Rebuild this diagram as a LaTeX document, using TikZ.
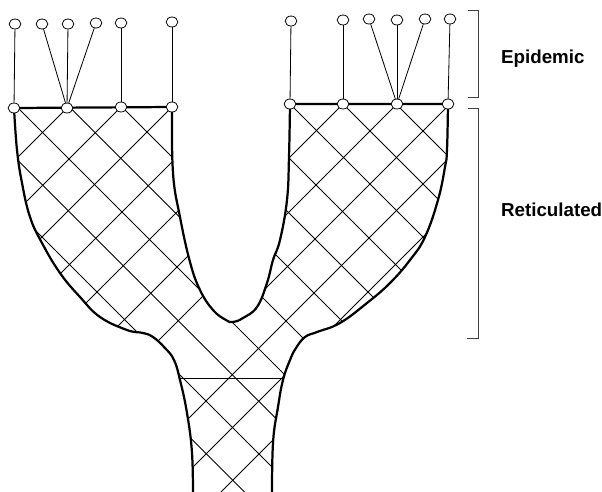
\documentclass[tikz,border=0pt]{standalone}
\usepackage{fontspec}
\setmainfont{Liberation Sans}
\usetikzlibrary{shapes.geometric}

\begin{document}
\begin{tikzpicture}[x=0.03cm, y=-0.03cm,
  tip/.style={draw, ellipse, fill=white, line width=0.7pt, minimum width=0.35cm, minimum height=0.3cm, inner sep=0pt},
  mesh/.style={line width=0.65pt},
  rim/.style={line width=1.9pt, line join=round},
  twig/.style={line width=0.7pt},
  bracket/.style={line width=0.6pt, black!75},
  phase/.style={font=\fontsize{16}{19}\selectfont\bfseries, anchor=west}]
\useasboundingbox (0,0) rectangle (602,491);
% base points of the two branches
\coordinate (p1) at (14,108); \coordinate (p2) at (67,108); \coordinate (p3) at (121,107); \coordinate (p4) at (172,107);
\coordinate (q1) at (290,104); \coordinate (q2) at (343,104); \coordinate (q3) at (397,104); \coordinate (q4) at (448,104);
% the Y shaped trunk
\path[save path=\trunk] (p1) -- (p4)
  -- plot[smooth, tension=0.7] coordinates {(172,107) (173,173) (180,217) (190,262) (200,290) (213,310) (226,320) (233,322) (243,318) (257,307) (267,283) (273,260) (280,240) (287,200) (289,157) (290,104)}
  -- (q4)
  -- plot[smooth, tension=0.7] coordinates {(448,104) (447,150) (445,167) (438,200) (425,237) (410,260) (390,283) (367,303) (340,323) (317,332) (305,337) (296,348) (290,360) (283,380) (278,407) (273,443) (272,500)}
  -- (193,500)
  -- plot[smooth, tension=0.7] coordinates {(193,500) (192,453) (187,413) (180,380) (174,360) (165,348) (153,337) (143,333) (127,330) (100,317) (80,297) (60,273) (42,243) (30,217) (22,183) (17,150) (14,108)}
  -- cycle;
% reticulate mesh: left branch phase, right branch phase, meeting in the stem
\begin{scope}
\clip[use path=\trunk];
\begin{scope}
\clip (-60,-10) -- (233,-10) -- (233,322) -- (-50,605) -- (-60,605) -- cycle;
\foreach \c in {122,175,228,279,334,389,444,499} \draw[mesh] (\c+10,-10) -- (\c-600,600);
\end{scope}
\begin{scope}
\clip (233,-10) -- (720,-10) -- (720,605) -- (-50,605) -- (233,322) -- cycle;
\foreach \c in {394,447,501,554,607,660,713,766,819} \draw[mesh] (\c+10,-10) -- (\c-600,600);
\end{scope}
\begin{scope}
\clip (233,-10) -- (720,-10) -- (720,809) -- (233,322) -- cycle;
\foreach \c in {397,344,292,239,186,131,76,21,-35} \draw[mesh] (\c-10,-10) -- (\c+600,600);
\end{scope}
\begin{scope}
\clip (-60,-10) -- (233,-10) -- (233,322) -- (720,809) -- (-60,809) -- cycle;
\foreach \k in {-5,...,4} \draw[mesh] ({-90+52.5*\k-10},-10) -- ({-90+52.5*\k+600},600);
\end{scope}
\draw[mesh] (150,378) -- (310,378);
\end{scope}
\draw[rim, use path=\trunk];
% base nodes and tips
\foreach \i in {1,...,4} {\node[tip] (b\i) at (p\i) {}; \node[tip] (d\i) at (q\i) {};}
\node[tip] (a1) at (15,24) {}; \node[tip] (a2) at (42,24) {}; \node[tip] (a3) at (68,24) {};
\node[tip] (a4) at (96,23) {}; \node[tip] (a5) at (121,23) {}; \node[tip] (a6) at (172,22) {};
\node[tip] (c1) at (291,21) {}; \node[tip] (c2) at (343,20) {}; \node[tip] (c3) at (369,19) {};
\node[tip] (c4) at (397,20) {}; \node[tip] (c5) at (425,19) {}; \node[tip] (c6) at (450,19) {};
\draw[twig] (a1) -- (b1); \draw[twig] (a2) -- (b2); \draw[twig] (a3) -- (b2); \draw[twig] (a4) -- (b2); \draw[twig] (a5) -- (b3); \draw[twig] (a6) -- (b4);
\draw[twig] (c1) -- (d1); \draw[twig] (c2) -- (d2); \draw[twig] (c3) -- (d3); \draw[twig] (c4) -- (d3); \draw[twig] (c5) -- (d3); \draw[twig] (c6) -- (d4);
% phases
\draw[bracket] (468,10) -- (478,10) -- (478,97) -- (468,97);
\draw[bracket] (468,108) -- (478,108) -- (478,338) -- (467,338);
\node[phase] (epi) at (497,59) {Epidemic};
\node[phase] (ret) at (497,210) {Reticulated};
\end{tikzpicture}
\end{document}
